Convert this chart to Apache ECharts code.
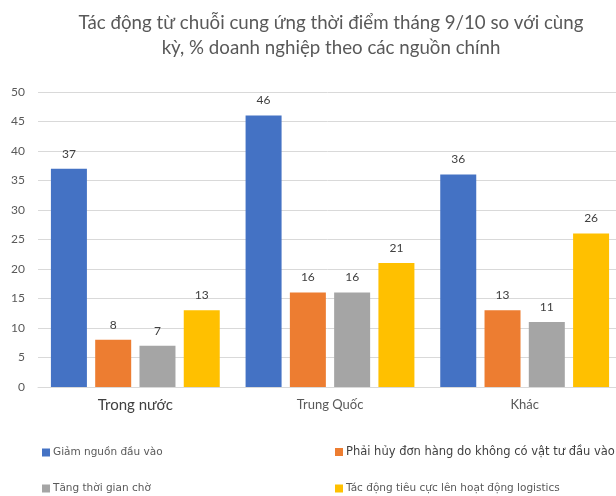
<!DOCTYPE html>
<html>
<head>
<meta charset="utf-8">
<script src="https://cdn.jsdelivr.net/npm/echarts@6/dist/echarts.min.js"></script>
<style>
  html, body { margin: 0; padding: 0; background: #ffffff; }
  #chart { width: 616px; height: 496px; }
</style>
</head>
<body>
<div id="chart"></div>
<script>
// Supply-chain impact by source, % of firms
var categories = ['Trong nước', 'Trung Quốc', 'Khác'];
var seriesNames = [
  'Giảm nguồn đầu vào',
  'Phải hủy đơn hàng do không có vật tư đầu vào',
  'Tăng thời gian chờ',
  'Tác động tiêu cực lên hoạt động logistics'
];
var giamNguon = [37, 46, 36];
var huyDonHang = [8, 16, 13];
var tangThoiGian = [7, 16, 11];
var logistics = [13, 21, 26];
var yTicks = [0, 5, 10, 15, 20, 25, 30, 35, 40, 45, 50];

var colors = ['#4472C4', '#ED7D31', '#A5A5A5', '#FFC000'];
var values = [giamNguon, huyDonHang, tangThoiGian, logistics];
var font = 'Lato, "Open Sans", sans-serif';
var legendFont = '"DejaVu Sans", Verdana, sans-serif';

var chart = echarts.init(document.getElementById('chart'), null, { renderer: 'canvas' });

var series = seriesNames.map(function (name, i) {
  return {
    name: name,
    type: 'bar',
    data: values[i],
    barWidth: 36,
    barGap: '23%',
    itemStyle: { color: colors[i] },
    label: {
      show: true,
      position: 'top',
      distance: 9,
      color: '#404040',
      fontSize: 12,
      fontFamily: font
    }
  };
});

// one legend per entry so the two columns line up
var legendSpec = [
  { left: 42, top: 447, size: 10.5, color: '#595959' },
  { left: 335, top: 446, size: 11.5, color: '#404040' },
  { left: 42, top: 483, size: 10.5, color: '#595959' },
  { left: 335, top: 483, size: 10.5, color: '#595959' }
];
var legends = legendSpec.map(function (s, i) {
  return {
    left: s.left,
    top: s.top,
    padding: 0,
    itemWidth: 8,
    itemHeight: 8,
    icon: 'rect',
    selectedMode: false,
    data: [seriesNames[i]],
    textStyle: { fontSize: s.size, color: s.color, fontFamily: legendFont, padding: [0, 0, 0, -2] }
  };
});

chart.setOption({
  animation: false,
  backgroundColor: '#ffffff',
  title: {
    text: 'Tác động từ chuỗi cung ứng thời điểm tháng 9/10 so với cùng\nkỳ, % doanh nghiệp theo các nguồn chính',
    left: 326,
    textAlign: 'center',
    top: 5,
    textStyle: {
      fontSize: 18.7,
      fontWeight: 'normal',
      color: '#595959',
      fontFamily: font,
      lineHeight: 25
    }
  },
  legend: legends,
  // plot area runs a little past the right edge of the canvas
  grid: { left: 38, width: 584, top: 92, bottom: 109, containLabel: false, outerBoundsMode: 'none' },
  xAxis: {
    type: 'category',
    data: categories.map(function (c, i) {
      return i === 0
        ? { value: c, textStyle: { fontSize: 15, color: '#404040' } }
        : { value: c, textStyle: { fontSize: 13, color: '#595959' } };
    }),
    axisTick: { show: false },
    axisLine: { lineStyle: { color: '#d9d9d9' } },
    axisLabel: { margin: 11, fontFamily: font }
  },
  yAxis: {
    type: 'value',
    min: yTicks[0],
    max: yTicks[yTicks.length - 1],
    interval: 5,
    axisLine: { show: false },
    axisTick: { show: false },
    splitLine: { lineStyle: { color: '#d9d9d9', width: 1 } },
    axisLabel: { color: '#595959', fontSize: 12, margin: 13, fontFamily: font }
  },
  series: series
});
</script>
</body>
</html>
